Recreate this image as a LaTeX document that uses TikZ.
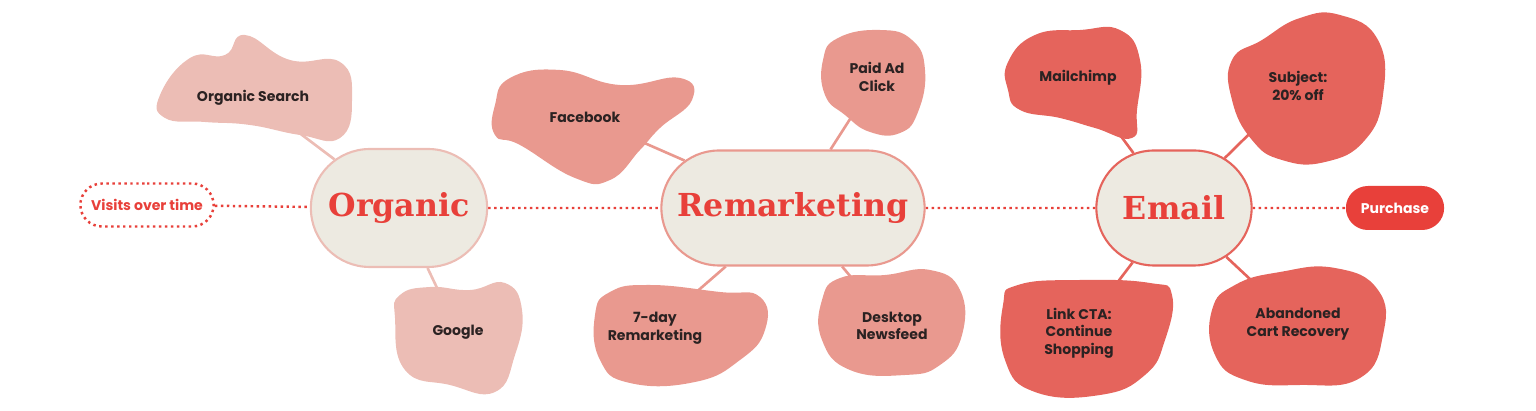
\documentclass[tikz,border=0pt]{standalone}
\usepackage{fontspec}
\setmainfont{Poppins}
\newfontfamily\headfont{DejaVu Serif}
\usetikzlibrary{backgrounds,shapes.misc}
\definecolor{cream}{HTML}{EDEAE1}
\definecolor{pinkA}{HTML}{ECBDB5}
\definecolor{pinkB}{HTML}{E9998F}
\definecolor{pinkC}{HTML}{E5645C}
\definecolor{redmain}{HTML}{E8403A}
\definecolor{ink}{HTML}{2B2222}
% blob: colour, outline points
\newcommand{\blob}[2]{%
  \fill[#1] plot[smooth cycle,tension=0.8] coordinates {#2};}
\begin{document}
\begin{tikzpicture}[x=0.02cm,y=-0.02cm,
    hub/.style={rounded rectangle,fill=cream,draw=#1,line width=1.2pt,minimum height=2.3cm},
    hub-text/.style={font=\headfont\bfseries\fontsize{18}{20}\selectfont,text=redmain},
    label-node/.style={font=\bfseries\fontsize{8}{10}\selectfont,text=ink,align=center},
    trail/.style={redmain,line width=1.4pt,dotted},
  ]
  \useasboundingbox (0,0) rectangle (1536,411);
  % blobs
  \blob{pinkA}{(160,95) (190,58) (225,55) (245,35) (290,60) (340,62) (352,100) (340,138) (300,135) (250,125) (205,122) (165,118)}
  \blob{pinkA}{(395,318) (400,295) (430,287) (470,290) (505,283) (522,310) (515,355) (495,392) (450,385) (405,370)}
  \blob{pinkB}{(495,105) (510,78) (560,70) (620,85) (680,78) (692,100) (660,128) (640,150) (610,180) (575,178) (520,145) (495,135)}
  \blob{pinkB}{(823,60) (838,38) (880,30) (912,40) (925,70) (918,112) (900,133) (870,132) (845,115) (825,95)}
  \blob{pinkB}{(595,315) (610,292) (650,285) (720,292) (760,297) (765,330) (740,360) (695,382) (630,383) (600,360)}
  \blob{pinkB}{(822,300) (840,278) (885,275) (930,270) (960,290) (962,335) (940,365) (905,375) (850,370) (822,340)}
  \blob{pinkC}{(1008,62) (1035,35) (1080,30) (1120,30) (1140,60) (1137,110) (1132,138) (1095,128) (1060,118) (1020,110) (1008,90)}
  \blob{pinkC}{(1232,60) (1262,40) (1300,18) (1340,15) (1378,40) (1383,95) (1365,140) (1325,162) (1282,160) (1252,140) (1232,100)}
  \blob{pinkC}{(1003,305) (1018,285) (1080,280) (1150,283) (1172,295) (1165,340) (1145,375) (1100,395) (1035,392) (1005,360)}
  \blob{pinkC}{(1212,310) (1235,285) (1280,272) (1335,268) (1378,290) (1383,335) (1360,378) (1300,385) (1245,380) (1215,355)}
  % hubs
  \node[hub=pinkA,minimum width=3.76cm,minimum height=2.36cm] (organic) at (399,208) {};
  \node[hub-text] at (organic) {Organic};
  \node[hub=pinkB,minimum width=5.5cm] (remarketing) at (793,208) {};
  \node[hub-text] at (remarketing) {Remarketing};
  \node[hub=pinkC,minimum width=3.34cm] (email) at (1174,208) {};
  \node[hub-text] at (email) {Email};
  % ends of the trail
  \node[rounded rectangle,draw=redmain,line width=1.4pt,dotted,minimum width=2.9cm,minimum height=0.86cm,
    font=\bfseries\fontsize{8}{10}\selectfont,text=redmain] (visits) at (147,205) {Visits over time};
  \node[rounded rectangle,fill=redmain,minimum width=2.2cm,minimum height=0.88cm,
    font=\bfseries\fontsize{8}{10}\selectfont,text=white] (purchase) at (1395,208) {Purchase};
  % labels
  \node[label-node] (search) at (253,98) {Organic Search};
  \node[label-node] (google) at (458,332) {Google};
  \node[label-node] (facebook) at (585,117) {Facebook};
  \node[label-node] (paid) at (877,77) {Paid Ad\\Click};
  \node[label-node] (sevenday) at (655,328) {7-day\\Remarketing};
  \node[label-node] (desktop) at (892,326) {Desktop\\Newsfeed};
  \node[label-node] (mailchimp) at (1078,78) {Mailchimp};
  \node[label-node] (subject) at (1298,86) {Subject:\\20\% off};
  \node[label-node] (linkcta) at (1079,333) {Link CTA:\\Continue\\Shopping};
  \node[label-node] (cart) at (1298,324) {Abandoned\\Cart Recovery};
  % connectors
  \begin{pgfonlayer}{background}
    \draw[trail] (visits) -- (organic);
    \draw[trail] (organic) -- (remarketing);
    \draw[trail] (remarketing) -- (email);
    \draw[trail] (email) -- (purchase);
    \draw[pinkA,line width=1.5pt] (organic) -- (search);
    \draw[pinkA,line width=1.5pt] (organic) -- (google);
    \draw[pinkB,line width=1.5pt] (remarketing) -- (facebook);
    \draw[pinkB,line width=1.5pt] (remarketing) -- (paid);
    \draw[pinkB,line width=1.5pt] (remarketing) -- (sevenday);
    \draw[pinkB,line width=1.5pt] (remarketing) -- (desktop);
    \draw[pinkC,line width=1.5pt] (email) -- (mailchimp);
    \draw[pinkC,line width=1.5pt] (email) -- (subject);
    \draw[pinkC,line width=1.5pt] (email) -- (linkcta);
    \draw[pinkC,line width=1.5pt] (email) -- (cart);
  \end{pgfonlayer}
\end{tikzpicture}
\end{document}
